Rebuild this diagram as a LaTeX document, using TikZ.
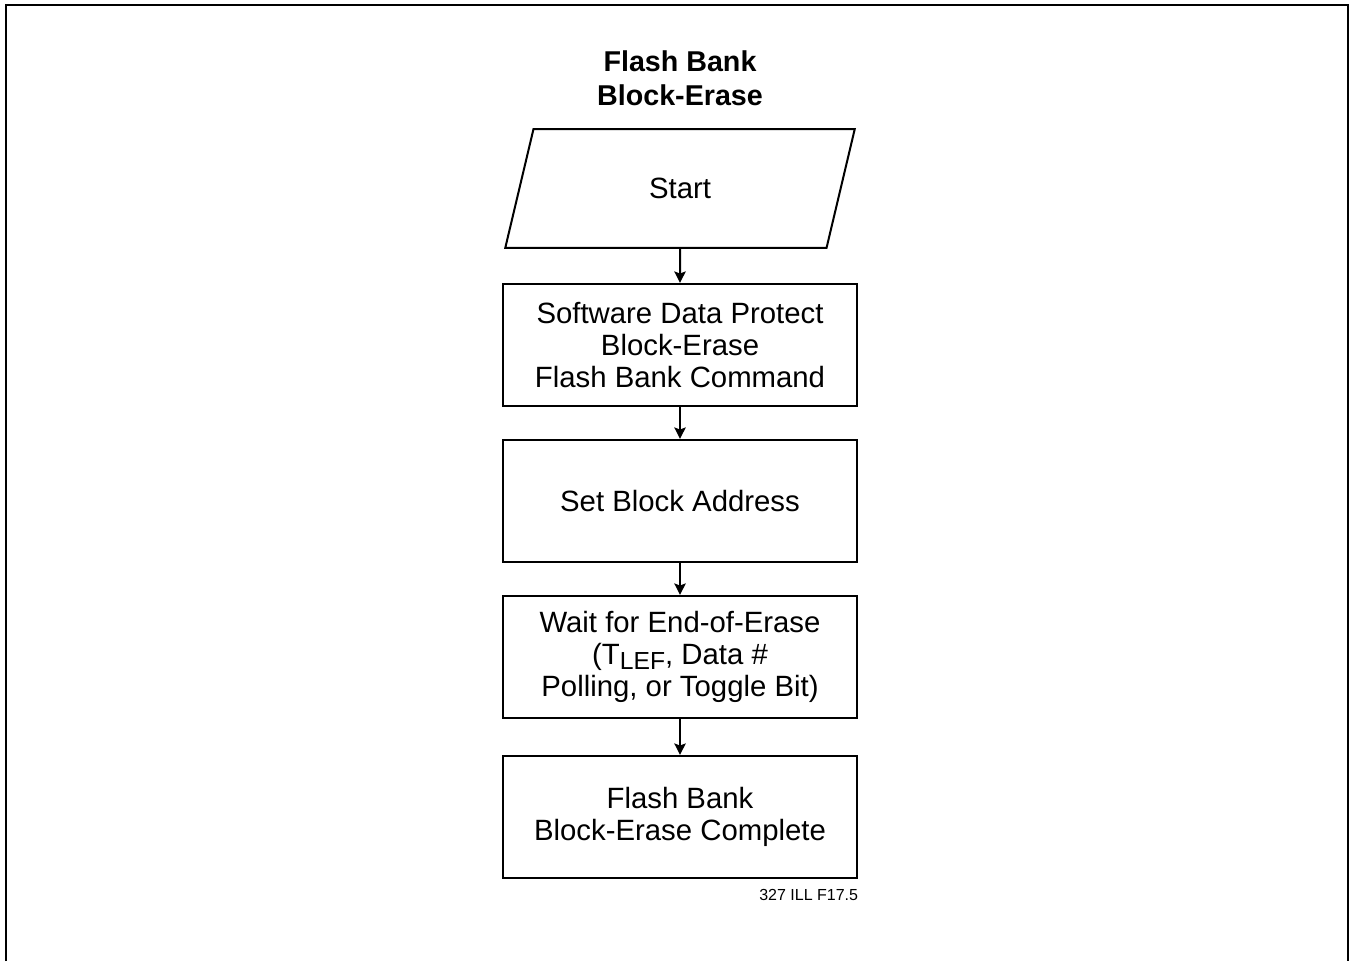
\documentclass[tikz,border=0pt]{standalone}
\usepackage{fontspec}
\setmainfont{Liberation Sans}
\usetikzlibrary{arrows.meta,positioning,shapes.geometric}

\begin{document}
\begin{tikzpicture}[
    x=0.75pt, y=-0.75pt,
    node distance=24pt,
    box/.style={draw, line width=1.5pt, align=center, inner sep=0pt,
      font=\fontsize{22}{24}\selectfont,
      minimum width=266pt, minimum height=91.5pt},
    io/.style={draw, trapezium, trapezium left angle=74,
      trapezium right angle=106, trapezium stretches,
      line width=1.5pt, inner sep=0pt,
      font=\fontsize{22}{24}\selectfont,
      minimum width=263pt, minimum height=89pt},
    arr/.style={-{Stealth[length=8.5pt, width=8.5pt, inset=1.5pt]}, line width=1.5pt}
  ]
  \useasboundingbox (0,0) rectangle (1351,961);
  \draw[line width=2pt] (6,961) -- (6,5) -- (1348,5) -- (1348,961);

  \node[align=center, font=\bfseries\fontsize{21.5}{25.5}\selectfont] (title) at (680,78)
    {Flash Bank\\Block-Erase};
  \node[io] (start) at (680,188.5) {Start};
  \node[box, below=25.5pt of start] (a) {Software Data Protect\\Block-Erase\\Flash Bank Command};
  \node[box, below=of a] (b) {Set Block Address};
  \node[box, below=of b] (c) {Wait for End-of-Erase\\(T\raisebox{-0.35ex}{\fontsize{18.5}{18}\selectfont LEF}, Data \#\\Polling, or Toggle Bit)};
  \node[box, below=27pt of c] (d) {Flash Bank\\Block-Erase Complete};
  \node[inner sep=0pt, font=\fontsize{12}{14}\selectfont,
    below=8pt of d.south east, anchor=north east] (figno) {327 ILL F17.5};

  \draw[arr] (start) -- (a);
  \draw[arr] (a) -- (b);
  \draw[arr] (b) -- (c);
  \draw[arr] (c) -- (d);
\end{tikzpicture}
\end{document}
